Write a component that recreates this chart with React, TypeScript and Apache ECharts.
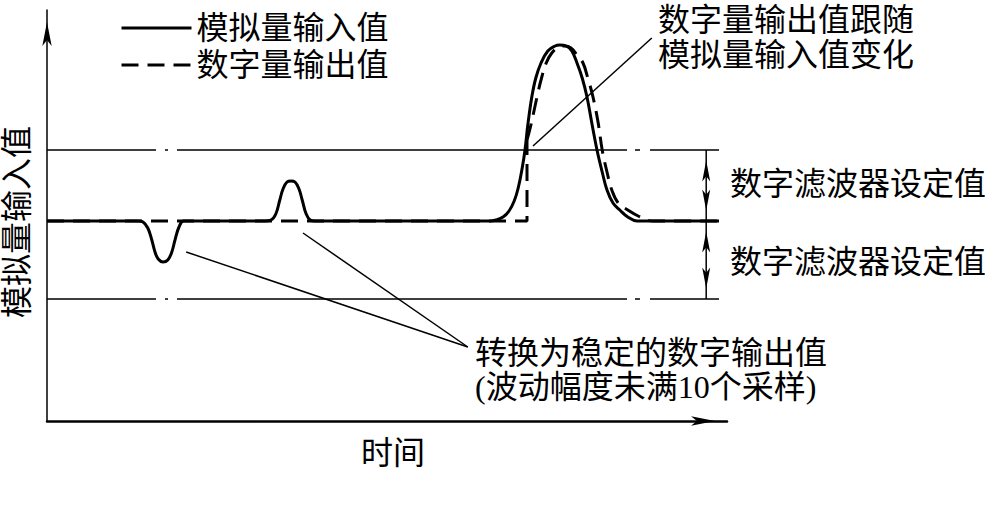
import { useEffect, useRef } from "react";
import * as echarts from "echarts";

// Axis ranges (time units, value units)
const timeMax = 85;
const valueMax = 102.75;

// Analog input value (solid)
const analogInput: [number, number][] = [
  [0, 50], [11.4, 50], [12, 49.75], [12.6, 48.25], [13.1, 45.25], [13.5, 42.25], [13.9, 40.5],
  [14.5, 39.75], [15.1, 40.25], [15.6, 42.25], [16, 45.25], [16.5, 48.5], [17.1, 50],
  [27.25, 50], [28, 50.25], [28.6, 51.75], [29.1, 55.25], [29.5, 58], [30, 59.75], [30.5, 60],
  [31, 59.75], [31.5, 58], [31.9, 55.25], [32.4, 51.75], [32.9, 50.25], [33.5, 50],
  [54.4, 50], [55.4, 50], [56.1, 50.25], [57, 51], [57.75, 52.5], [58.4, 55], [58.9, 58.25],
  [59.4, 63.25], [59.75, 67.75], [60.1, 74], [60.6, 81], [61.1, 85.75], [61.75, 89.5],
  [62.6, 92.5], [63.5, 93.75], [64.1, 94], [64.9, 93.75], [65.6, 92.5], [66.25, 89.5],
  [66.9, 85.75], [67.5, 81], [68.1, 74.5], [68.75, 67.75], [69.4, 62.25], [70, 57.75],
  [70.75, 54.5], [71.6, 52.75], [72.6, 51], [73.75, 50], [84, 50],
];

// Digital output value (dashed): held part, then following part
const digitalHold: [number, number][] = [[0, 50], [60, 50], [60, 70.25]];
const digitalFollow: [number, number][] = [
  [60, 70.25], [60.4, 73.25], [60.9, 77.75], [61.25, 81], [61.75, 85.25], [62.4, 89.5],
  [63.1, 92], [64, 93.5], [64.75, 93.75], [65.5, 93.25], [66.25, 91.5], [67, 89.5],
  [67.6, 85.75], [68.25, 81], [68.9, 74.5], [69.4, 67.75], [70, 62.25], [70.6, 57.75],
  [71.4, 54.5], [72.6, 52.75], [73.9, 51.25], [75.75, 50], [84, 50],
];

const upperThreshold = 67.75;
const baseline = 50;
const lowerThreshold = 30.5;
const thresholdSpan = [0, 84];
const filterArrowT = 82.4;

// Leader lines [from, to]
const leaderLines: [number, number][][] = [
  [[17.4, 42.25], [52.6, 18.5]],
  [[32, 47], [52.6, 18.5]],
  [[60.75, 68.75], [75.6, 95.75]],
];

const legendNames = ["模拟量输入值", "数字量输出值"];
const annotationFollow = ["数字量输出值跟随", "模拟量输入值变化"];
const annotationFilter = "数字滤波器设定值";
const annotationStable = ["转换为稳定的数字输出值", "(波动幅度未满10个采样)"];
const xAxisName = "时间";
const yAxisName = "模拟量输入值";

const FONT = "'Liberation Serif', 'Noto Sans CJK SC', serif";
const FS = 32;

function txt(text: string, x: number, y: number, align = "left", extra: any = {}) {
  return {
    type: "text",
    x,
    y,
    ...extra,
    style: {
      text,
      fontFamily: FONT,
      fontSize: FS,
      fill: "#000",
      align,
      verticalAlign: "middle",
    },
  };
}

export default function App() {
  const ref = useRef<HTMLDivElement>(null);
  useEffect(() => {
    if (!ref.current) return;
    const chart = echarts.init(ref.current, undefined, { renderer: "svg" });
    const thresholdDash = [109, 9, 3, 9, 450, 8, 5, 10, 300];
    const thinLine = { color: "#000", width: 1.5, type: "solid" };
    const series: any[] = [
      {
        type: "line",
        name: "upper",
        data: thresholdSpan.map((t) => [t, upperThreshold]),
        symbol: "none",
        silent: true,
        itemStyle: { color: "#000" },
        lineStyle: { color: "#000", width: 1.5, type: thresholdDash },
      },
      {
        type: "line",
        name: "lower",
        data: thresholdSpan.map((t) => [t, lowerThreshold]),
        symbol: "none",
        silent: true,
        itemStyle: { color: "#000" },
        lineStyle: { color: "#000", width: 1.5, type: thresholdDash },
      },
      {
        type: "line",
        name: "filterSpan",
        data: [[filterArrowT, upperThreshold], [filterArrowT, lowerThreshold]],
        symbol: "none",
        silent: true,
        itemStyle: { color: "#000" },
        lineStyle: thinLine,
      },
      {
        type: "scatter",
        name: "arrowUp",
        data: [[filterArrowT, upperThreshold], [filterArrowT, baseline]],
        symbol: "arrow",
        symbolSize: [6, 21],
        symbolOffset: [0, 10.5],
        silent: true,
        itemStyle: { color: "#000", opacity: 1 },
      },
      {
        type: "scatter",
        name: "arrowDown",
        data: [[filterArrowT, baseline], [filterArrowT, lowerThreshold]],
        symbol: "arrow",
        symbolSize: [6, 21],
        symbolRotate: 180,
        symbolOffset: [0, -10.5],
        silent: true,
        itemStyle: { color: "#000", opacity: 1 },
      },
      ...leaderLines.map((seg, i) => ({
        type: "line",
        name: "leader" + i,
        data: seg,
        symbol: "none",
        silent: true,
        itemStyle: { color: "#000" },
        lineStyle: thinLine,
      })),
      {
        type: "line",
        name: legendNames[1],
        data: digitalHold,
        symbol: "none",
        silent: true,
        itemStyle: { color: "#000" },
        lineStyle: { color: "#000", width: 3, type: [17, 9] },
      },
      {
        type: "line",
        name: legendNames[1],
        data: digitalFollow,
        symbol: "none",
        smooth: 0.4,
        silent: true,
        itemStyle: { color: "#000" },
        lineStyle: { color: "#000", width: 3, type: [17, 9] },
      },
      {
        type: "line",
        name: legendNames[0],
        data: analogInput,
        symbol: "none",
        smooth: 0.4,
        silent: true,
        itemStyle: { color: "#000" },
        lineStyle: { color: "#000", width: 3, type: "solid" },
      },
    ];

    chart.setOption({
      animation: false,
      backgroundColor: "#fff",
      grid: { left: 47, top: 10, width: 680, height: 411 },
      legend: {
        data: legendNames,
        orient: "vertical",
        left: 115,
        top: 7,
        itemWidth: 70,
        itemHeight: 14,
        itemGap: 5,
        selectedMode: false,
        itemStyle: { opacity: 0 },
        lineStyle: { width: 3 },
        textStyle: { fontFamily: FONT, fontSize: FS, color: "#000", lineHeight: 32 },
      },
      xAxis: {
        type: "value",
        min: 0,
        max: timeMax,
        axisLine: {
          show: true,
          onZero: false,
          symbol: ["none", "arrow"],
          symbolSize: [7, 24],
          symbolOffset: [0, -12],
          lineStyle: { color: "#000", width: 2.5 },
        },
        axisTick: { show: false },
        axisLabel: { show: false },
        splitLine: { show: false },
      },
      yAxis: {
        type: "value",
        min: 0,
        max: valueMax,
        axisLine: {
          show: true,
          onZero: false,
          symbol: ["none", "arrow"],
          symbolSize: [7, 24],
          symbolOffset: [0, -12],
          lineStyle: { color: "#000", width: 1.5 },
        },
        axisTick: { show: false },
        axisLabel: { show: false },
        splitLine: { show: false },
      },
      series,
      graphic: [
        txt(annotationFollow[0], 658, 20),
        txt(annotationFollow[1], 658, 55),
        txt(annotationFilter, 730, 184),
        txt(annotationFilter, 730, 262),
        txt(annotationStable[0], 475, 353),
        txt(annotationStable[1], 475, 387),
        txt(xAxisName, 393, 453, "center"),
        txt(yAxisName, 17, 222, "center", { rotation: Math.PI / 2 }),
      ],
    });
    return () => chart.dispose();
  }, []);
  return (
    <div
      ref={ref}
      style={{ position: "fixed", left: 0, top: 0, width: 985, height: 505, background: "#fff" }}
    />
  );
}
